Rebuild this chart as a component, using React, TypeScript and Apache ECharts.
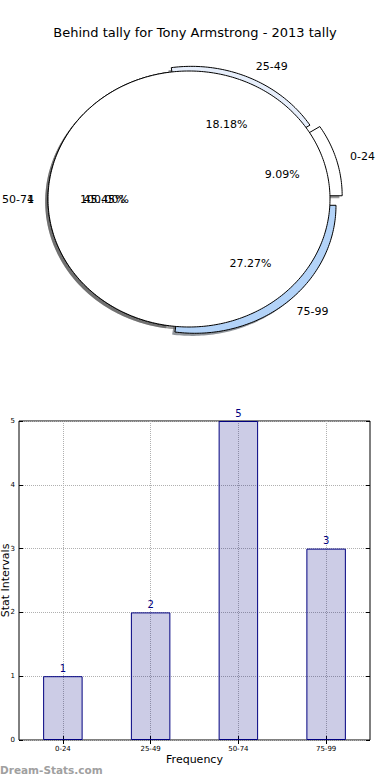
import React, { useEffect, useRef } from 'react';
import * as echarts from 'echarts';

// ---- data ----
const titleText = 'Behind tally for Tony Armstrong - 2013 tally';
const pieLabels = ['0-24', '25-49', '50-74', '75-99'];
const pieValues = [1, 2, 5, 3];
const pieColors = ['#ffffff', '#e6eefb', '#ffffff', '#b3d3f8'];
const pieExplode = [0.09, 0.04, 0, 0.065];
const coverLabels = ['1'];
const coverValues = [1];
const coverColors = ['#ffffff'];
const coverExplode = [0];
const barCategories = ['0-24', '25-49', '50-74', '75-99'];
const barValues = [1, 2, 5, 3];

// ---- pie layout ----
const CX = 189;
const CY = 199;
const RX = 141;
const RY = 128;
const FONT = 'DejaVu Sans';

function geom(values: number[], explode: number[], i: number) {
  const total = values.reduce((a, b) => a + b, 0);
  let start = 0;
  for (let j = 0; j < i; j++) start += values[j];
  const a0 = (start / total) * Math.PI * 2;
  const a1 = ((start + values[i]) / total) * Math.PI * 2;
  const mid = (a0 + a1) / 2;
  const ex = explode[i] || 0;
  return {
    a0,
    a1,
    mid,
    cx: CX + ex * RX * Math.cos(mid),
    cy: CY - ex * RY * Math.sin(mid),
    frac: values[i] / total,
  };
}

function points(g: any, dx: number, dy: number) {
  const pts: number[][] = [];
  const full = g.a1 - g.a0 >= Math.PI * 2 - 1e-6;
  if (!full) pts.push([g.cx + dx, g.cy + dy]);
  const n = Math.max(12, Math.ceil((g.a1 - g.a0) / (Math.PI / 180)));
  for (let k = 0; k <= n; k++) {
    const t = g.a0 + ((g.a1 - g.a0) * k) / n;
    pts.push([g.cx + dx + RX * Math.cos(t), g.cy + dy - RY * Math.sin(t)]);
  }
  return pts;
}

function shade(hex: string) {
  const r = parseInt(hex.slice(1, 3), 16);
  const g = parseInt(hex.slice(3, 5), 16);
  const b = parseInt(hex.slice(5, 7), 16);
  return `rgba(${Math.round(r * 0.3)},${Math.round(g * 0.3)},${Math.round(b * 0.3)},0.55)`;
}

function pieSeries(
  values: number[],
  labels: string[],
  colors: string[],
  explode: number[],
  kind: 'shadow' | 'wedge' | 'text',
  z: number
) {
  return {
    type: 'custom',
    coordinateSystem: 'none',
    silent: true,
    z,
    data: values,
    renderItem: (params: any) => {
      const i = params.dataIndex;
      const g = geom(values, explode, i);
      if (kind === 'shadow') {
        return {
          type: 'polygon',
          shape: { points: points(g, -2.8, 2.6) },
          style: { fill: shade(colors[i]), stroke: 'none' },
        };
      }
      if (kind === 'wedge') {
        return {
          type: 'polygon',
          shape: { points: points(g, 0, 0) },
          style: { fill: colors[i], stroke: '#000', lineWidth: 1 },
        };
      }
      const c = Math.cos(g.mid);
      const s = Math.sin(g.mid);
      const lx = g.cx + 1.1 * RX * c;
      const ly = g.cy - 1.1 * RY * s;
      const px = g.cx + 0.6 * RX * c;
      const py = g.cy - 0.6 * RY * s;
      return {
        type: 'group',
        children: [
          {
            type: 'text',
            style: {
              text: labels[i],
              x: lx,
              y: ly,
              align: c >= 0 ? 'left' : 'right',
              verticalAlign: 'middle',
              fontSize: 11,
              fontFamily: FONT,
              fill: '#000',
            },
          },
          {
            type: 'text',
            style: {
              text: (g.frac * 100).toFixed(2) + '%',
              x: px,
              y: py,
              align: 'center',
              verticalAlign: 'middle',
              fontSize: 11,
              fontFamily: FONT,
              fill: '#000',
            },
          },
        ],
      };
    },
  };
}

export default function App() {
  const ref = useRef<HTMLDivElement>(null);
  useEffect(() => {
    if (!ref.current) return;
    const chart = echarts.init(ref.current, undefined, { renderer: 'svg' });
    const axisFont = { fontSize: 7, color: '#000', fontFamily: FONT };
    const dotted = { type: 'dotted', color: '#b0b0b0', width: 1 };
    chart.setOption({
      animation: false,
      backgroundColor: '#fff',
      title: {
        text: titleText,
        left: 'center',
        top: 21,
        textStyle: { fontSize: 13, fontWeight: 'normal', color: '#000', fontFamily: FONT },
      },
      graphic: [
        {
          type: 'text',
          left: 0,
          top: 764,
          style: {
            text: 'Dream-Stats.com',
            fontSize: 10.5,
            fontWeight: 'bold',
            fontFamily: FONT,
            fill: '#a0a0a0',
          },
        },
      ],
      grid: {
        left: 19,
        right: 20,
        top: 421,
        bottom: 40,
        containLabel: false,
        outerBoundsMode: 'none',
        show: true,
        borderColor: '#000',
        borderWidth: 1,
        backgroundColor: 'transparent',
      },
      xAxis: [
        {
          type: 'category',
          data: barCategories,
          position: 'bottom',
          axisLine: { show: false },
          axisTick: { show: true, inside: true, alignWithLabel: true, length: 4, lineStyle: { color: '#000' } },
          axisLabel: { ...axisFont, margin: 5 },
          splitLine: { show: true, alignWithLabel: true, lineStyle: dotted },
          name: 'Frequency',
          nameLocation: 'middle',
          nameGap: 14,
          nameMoveOverlap: false,
          nameTextStyle: { fontSize: 11, color: '#000', fontFamily: FONT },
        },
        {
          type: 'category',
          data: barCategories,
          position: 'top',
          axisLine: { show: false },
          axisTick: { show: true, inside: true, alignWithLabel: true, length: 4, lineStyle: { color: '#000' } },
          axisLabel: { show: false },
          splitLine: { show: false },
        },
      ],
      yAxis: [
        {
          type: 'value',
          min: 0,
          max: 5,
          interval: 1,
          position: 'left',
          axisLine: { show: false },
          axisTick: { show: true, inside: true, length: 4, lineStyle: { color: '#000' } },
          axisLabel: { ...axisFont, margin: 4 },
          splitLine: { show: true, lineStyle: dotted },
          name: 'Stat Intervals',
          nameLocation: 'middle',
          nameGap: 8,
          nameRotate: 90,
          nameMoveOverlap: false,
          nameTextStyle: { fontSize: 11, color: '#000', fontFamily: FONT },
        },
        {
          type: 'value',
          min: 0,
          max: 5,
          interval: 1,
          position: 'right',
          axisLine: { show: false },
          axisTick: { show: true, inside: true, length: 4, lineStyle: { color: '#000' } },
          axisLabel: { show: false },
          splitLine: { show: false },
        },
      ],
      series: [
        pieSeries(pieValues, pieLabels, pieColors, pieExplode, 'shadow', 1),
        pieSeries(coverValues, coverLabels, coverColors, coverExplode, 'shadow', 1),
        pieSeries(pieValues, pieLabels, pieColors, pieExplode, 'wedge', 2),
        pieSeries(coverValues, coverLabels, coverColors, coverExplode, 'wedge', 3),
        pieSeries(pieValues, pieLabels, pieColors, pieExplode, 'text', 4),
        pieSeries(coverValues, coverLabels, coverColors, coverExplode, 'text', 4),
        {
          type: 'bar',
          xAxisIndex: 0,
          yAxisIndex: 0,
          data: barValues,
          barWidth: '45%',
          itemStyle: { color: 'rgba(0,0,128,0.2)', borderColor: '#000080', borderWidth: 1 },
          label: {
            show: true,
            position: 'top',
            distance: 3,
            color: '#000080',
            fontSize: 10,
            fontFamily: FONT,
          },
        },
      ],
    });
    return () => chart.dispose();
  }, []);
  return (
    <div
      ref={ref}
      style={{ position: 'fixed', left: 0, top: 0, width: 390, height: 780 }}
    />
  );
}
